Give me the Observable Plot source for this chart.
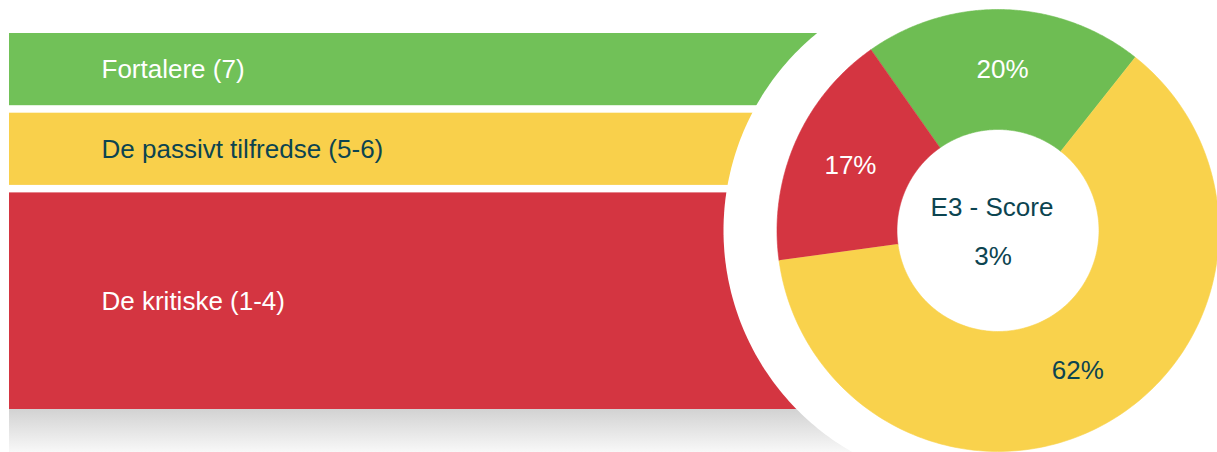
<!DOCTYPE html>
<html>
<head>
<meta charset="utf-8">
<script src="https://cdn.jsdelivr.net/npm/d3@7"></script>
<script src="https://cdn.jsdelivr.net/npm/@observablehq/plot@0.6"></script>
<style>
  html, body { margin: 0; padding: 0; background: #ffffff; overflow: hidden; }
  #chart svg { display: block; font-family: "Liberation Sans", Arial, sans-serif; }
</style>
</head>
<body>
<div id="chart"></div>
<script>
// ---- data ----
const categories = ["Fortalere (7)", "De passivt tilfredse (5-6)", "De kritiske (1-4)"];
const shares = [20.4, 62.2, 17.4];           // donut shares (%), same order as categories
const centerTitle = "E3 - Score";

// ---- styles ----
const barColors   = ["#71c158", "#f9d04b", "#d43541"];
const sliceColors = ["#6ebd53", "#f9d24c", "#d43541"];
const labelColors = ["#ffffff", "#0c4450", "#ffffff"];
const sliceLabelColors = ["#ffffff", "#0c4450", "#ffffff"];
const darkText = "#0c4450";

// ---- layout (pixel-like units of the frame) ----
const W = 1217, H = 452;
const barWeights = [1, 1, 3];
const barTop = 33, barBottom = 409, barGap = 7.5, barLeft = 9, barRight = 950, labelX = 101;
const cx = 997.5, cy = 230, rOuter = 221, rInner = 101, rLabel = 161;
const discCx = 978, discCy = 230, discR = 255;
const startDeg = -35.1;

// bars
const unit = (barBottom - barTop - barGap * (barWeights.length - 1)) / d3.sum(barWeights);
let acc = barTop;
const bars = categories.map((c, i) => {
  const y1 = acc, y2 = acc + barWeights[i] * unit;
  acc = y2 + barGap;
  return {category: c, y1, y2, ym: (y1 + y2) / 2, fill: barColors[i], text: labelColors[i]};
});

// donut slices
const pie = d3.pie().sort(null).value(d => d.value)
  .startAngle(startDeg * Math.PI / 180).endAngle(startDeg * Math.PI / 180 + 2 * Math.PI);
const arcs = pie(shares.map((v, i) => ({value: v, i})));
const pt = (a, r, x0 = cx, y0 = cy) => ({x: x0 + r * Math.sin(a), y: y0 - r * Math.cos(a)});
const slicePts = [];
arcs.forEach((a, k) => {
  const n = 180;
  for (let j = 0; j <= n; j++) {
    const t = a.startAngle + (a.endAngle - a.startAngle) * j / n;
    slicePts.push({...pt(t, rOuter), slice: k, fill: sliceColors[k]});
  }
  for (let j = n; j >= 0; j--) {
    const t = a.startAngle + (a.endAngle - a.startAngle) * j / n;
    slicePts.push({...pt(t, rInner), slice: k, fill: sliceColors[k]});
  }
});
const sliceLabels = arcs.map((a, k) => ({
  ...pt((a.startAngle + a.endAngle) / 2, rLabel),
  text: Math.round(shares[k]) + "%", fill: sliceLabelColors[k]
}));
const discPts = d3.range(0, 361).map(j => ({...pt(j * Math.PI / 180, discR, discCx, discCy), slice: "disc"}));
const score = Math.round(shares[0] - shares[2]) + "%";

const plot = Plot.plot({
  width: W, height: H, margin: 0,
  x: {domain: [0, W], range: [0, W], axis: null},
  y: {domain: [0, H], range: [0, H], axis: null},
  color: {type: "identity"},
  style: {background: "transparent", fontFamily: "'Liberation Sans', Arial, sans-serif"},
  marks: [
    Plot.rect([{x1: barLeft, x2: barRight, y1: barBottom, y2: H}], {
      x1: "x1", x2: "x2", y1: "y1", y2: "y2", fill: "url(#shadowGrad)", ariaLabel: "floor"
    }),
    Plot.rect(bars, {x1: barLeft, x2: barRight, y1: "y1", y2: "y2", fill: "fill", ariaLabel: "bars"}),
    Plot.text(bars, {x: labelX, y: "ym", text: "category", fill: "text", textAnchor: "start", fontSize: 26}),
    Plot.line(discPts, {x: "x", y: "y", z: "slice", fill: "#ffffff", stroke: "none"}),
    Plot.line(slicePts, {x: "x", y: "y", z: "slice", fill: "fill", stroke: "fill", strokeWidth: 0.6}),
    Plot.text(sliceLabels, {x: "x", y: "y", text: "text", fill: "fill", fontSize: 26}),
    Plot.text([centerTitle], {x: cx, y: cy, text: d => d, fill: darkText, fontSize: 26, dy: -23, dx: -6}),
    Plot.text([score], {x: cx, y: cy, text: d => d, fill: darkText, fontSize: 26, dy: 26, dx: -5})
  ]
});

d3.select(plot).insert("defs", ":first-child").html(
  `<linearGradient id="shadowGrad" x1="0" y1="0" x2="0" y2="1">
     <stop offset="0" stop-color="#d2d2d2"/>
     <stop offset="1" stop-color="#f8f8f8"/>
   </linearGradient>
   <filter id="barShadow" x="-5%" y="-20%" width="110%" height="140%">
     <feDropShadow dx="-1" dy="2" stdDeviation="1.5" flood-color="#000000" flood-opacity="0.28"/>
   </filter>`);
d3.select(plot).selectAll('g[aria-label="bars"] rect').attr("filter", "url(#barShadow)");
document.getElementById("chart").appendChild(plot);
</script>
</body>
</html>
